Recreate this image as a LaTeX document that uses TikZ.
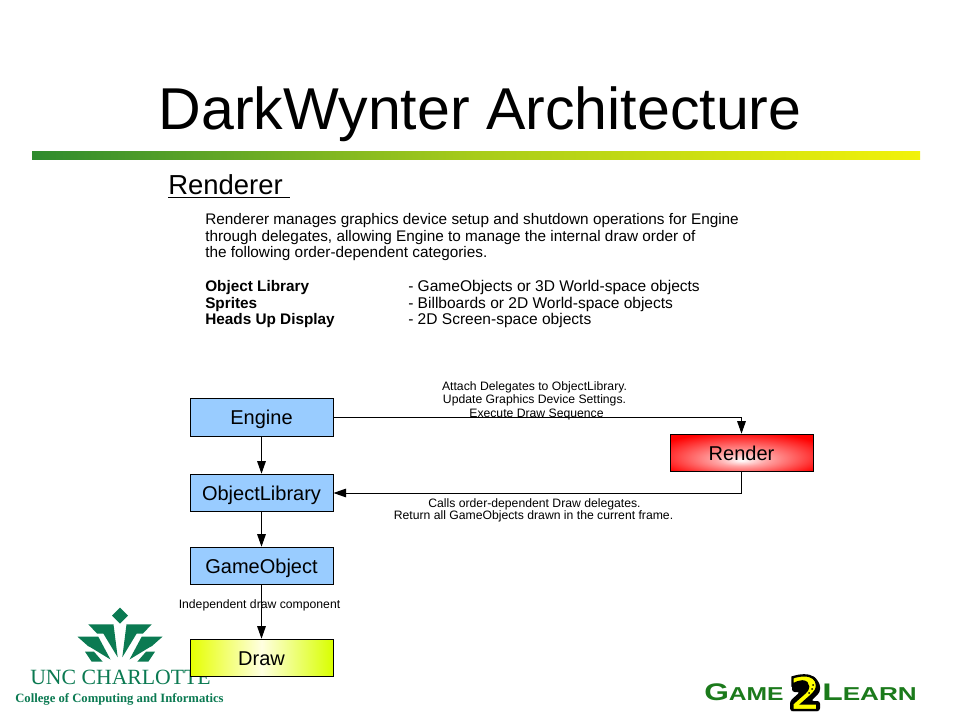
\documentclass[tikz,border=0pt]{standalone}
\usepackage{fontspec}
\usepackage{graphicx}
\setmainfont{Liberation Sans}
\newfontfamily\logoserif{Liberation Serif}
\newfontfamily\twofont[FakeBold=5]{DejaVu Sans Bold}
\usetikzlibrary{arrows.meta}
\definecolor{boxblue}{HTML}{99CCFF}
\definecolor{logogreen}{HTML}{0B7A52}
\definecolor{gamegreen}{HTML}{1B7A1B}
\definecolor{barleft}{HTML}{2E8B2E}
\definecolor{barmid}{HTML}{A8CC1A}
\definecolor{baryellow}{HTML}{F2F20A}
\pgfdeclareradialshading{rendershade}{\pgfpoint{0bp}{-10bp}}{color(0bp)=(white);color(9bp)=(white!65!red);color(32bp)=(red);color(50bp)=(red)}
\pgfdeclarehorizontalshading{drawshade}{100bp}{color(0bp)=(yellow!90!green);color(25bp)=(yellow!90!green);color(50bp)=(yellow!12);color(75bp)=(yellow!85!green);color(100bp)=(yellow!85!green)}
\tikzset{
  x=0.75pt,y=-0.75pt,
  flowbox/.style={draw=black,line width=0.75pt,minimum width=107.25pt,minimum height=28.2pt,inner sep=0pt,text height=13.5pt,text depth=3pt,font=\fontsize{15}{16}\selectfont},
  blueflow/.style={flowbox,fill=boxblue},
  arrowline/.style={draw=black,line width=0.75pt,-{Triangle[length=9.5pt,width=6.5pt]}},
  bodytext/.style={anchor=base west,inner sep=0pt,font=\fontsize{11.5}{13}\selectfont},
  colstext/.style={anchor=base west,inner sep=0pt,font=\fontsize{11.65}{13}\selectfont},
  boldtext/.style={anchor=base west,inner sep=0pt,font=\fontsize{11.5}{13}\selectfont\bfseries},
  linklabel/.style={anchor=base,inner sep=0pt,font=\fontsize{9.15}{10}\selectfont},
  leaf/.style={fill=logogreen,draw=none},
  gametext/.style={anchor=base west,inner sep=0pt,text=gamegreen},
}
\begin{document}
\begin{tikzpicture}
\useasboundingbox (0,0) rectangle (960,720);
\fill[white] (0,0) rectangle (960,720);
% title and rule
\node[anchor=base,inner sep=0pt,font=\fontsize{44.3}{50}\selectfont] (title) at (480,130) {DarkWynter Architecture};
\shade[left color=barleft,right color=baryellow,middle color=barmid] (32,152) rectangle (920,160);
% heading and description
\node[anchor=base west,inner sep=0pt,font=\fontsize{20.6}{22}\selectfont] (heading) at (168,195) {\underline{Renderer\ }};
\node[bodytext] (d1) at (205,225) {Renderer manages graphics device setup and shutdown operations for Engine};
\node[bodytext] (d2) at (205,241.5) {through delegates, allowing Engine to manage the internal draw order of};
\node[bodytext] (d3) at (205,258) {the following order-dependent categories.};
\node[boldtext] (b1) at (205,291.5) {Object Library};
\node[boldtext] (b2) at (205,308) {Sprites};
\node[boldtext] (b3) at (205,325) {Heads Up Display};
\node[colstext] (c1) at (408,291.5) {- GameObjects or 3D World-space objects};
\node[colstext] (c2) at (408,308) {- Billboards or 2D World-space objects};
\node[colstext] (c3) at (408,325) {- 2D Screen-space objects};
% UNC logo
\fill[leaf] (120,607.7) -- (128,615.7) -- (120,623.7) -- (112,615.7) -- cycle;
\fill[leaf] (88.3,624.3) -- (113.5,624.3) -- (117.7,657.3) -- (103.3,633.5) -- (97,633.5) -- cycle;
\fill[leaf] (151.7,624.3) -- (126.5,624.3) -- (122.3,657.3) -- (136.7,633.5) -- (143,633.5) -- cycle;
\fill[leaf] (77.5,636.7) -- (98.3,636.7) -- (110.5,659.5) -- (90,647) -- (88,646) -- cycle;
\fill[leaf] (162.5,636.7) -- (141.7,636.7) -- (129.5,659.5) -- (150,647) -- (152,646) -- cycle;
\fill[leaf] (85,651.7) -- (94,651.7) -- (102.7,661.7) -- (91.7,661.7) -- cycle;
\fill[leaf] (155,651.7) -- (146,651.7) -- (137.3,661.7) -- (148.3,661.7) -- cycle;
\node[anchor=base,inner sep=0pt,text=logogreen,font=\logoserif\fontsize{16.3}{20}\selectfont] (uncname) at (120.5,684) {UNC CHARLOTTE};
\node[anchor=base,inner sep=0pt,text=logogreen,font=\logoserif\bfseries\fontsize{9.5}{12}\selectfont] (college) at (119.5,702) {College of Computing and Informatics};
% Game2Learn logo
\node[gametext] (game) at (704,700) {\scalebox{1.32}[1]{\bfseries\fontsize{18}{18}\selectfont G\fontsize{14}{14}\selectfont AME}};
\node[gametext] (learn) at (822,700) {\scalebox{1.4}[1]{\bfseries\fontsize{18}{18}\selectfont L\fontsize{14}{14}\selectfont EARN}};
\fill[black,rounded corners=2] (792,684) -- (798,676) -- (814,676) -- (820,684) -- (820,692) -- (811,701) -- (820,701) -- (820,711) -- (790,711) -- (790,701) -- (800,692) -- (792,692) -- cycle;
\node[anchor=base,inner sep=0pt,font=\twofont\fontsize{35}{37}\selectfont] (two) at (805,710) {\special{pdf:bcolor [1 1 0] [0 0 0]}2\special{pdf:ecolor}};
\fill[black] (813,685) circle (1) (812,689) circle (1) (809,693) circle (1);
% flow boxes
\node[blueflow] (Engine) at (261.5,417.5) {Engine};
\node[blueflow] (ObjectLibrary) at (261.5,493) {ObjectLibrary};
\node[blueflow] (GameObject) at (261.5,566) {GameObject};
\node[flowbox,shading=drawshade,draw=black] (Draw) at (261.5,658) {Draw};
\node[flowbox,shading=rendershade,draw=black] (Render) at (741.5,453) {Render};
% connectors
\draw[arrowline] (Engine) -- (ObjectLibrary);
\draw[arrowline] (ObjectLibrary) -- (GameObject);
\draw[arrowline] (GameObject) -- (Draw);
\draw[arrowline] (Engine.east) -| (Render.north);
\draw[arrowline] (Render.south) |- (ObjectLibrary.east);
% connector labels
\node[linklabel] (la1) at (534.5,390) {Attach Delegates to ObjectLibrary.};
\node[linklabel] (la2) at (534.5,403) {Update Graphics Device Settings.};
\node[linklabel] (la3) at (536.5,417) {Execute Draw Sequence};
\node[linklabel] (lb1) at (534.5,507) {Calls order-dependent Draw delegates.};
\node[linklabel] (lb2) at (533.5,519) {Return all GameObjects drawn in the current frame.};
\node[linklabel] (lc) at (259.5,608) {Independent draw component};
\end{tikzpicture}
\end{document}
